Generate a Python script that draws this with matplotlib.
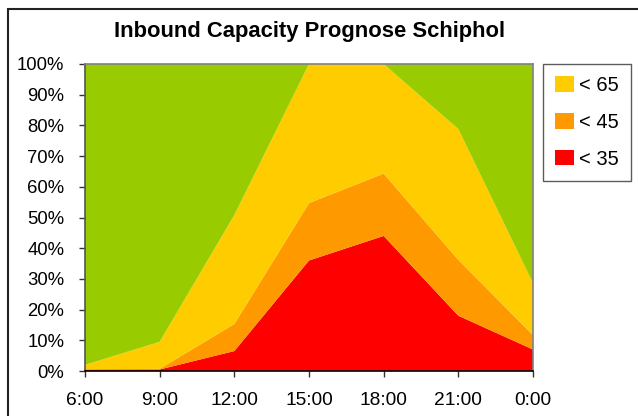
import matplotlib
matplotlib.use("Agg")
import matplotlib.pyplot as plt
from matplotlib.patches import Rectangle, Patch

times = ["6:00", "9:00", "12:00", "15:00", "18:00", "21:00", "0:00"]
red_lt35 = [0.5, 0.5, 6.5, 36.0, 44.0, 18.0, 7.0]
orange_lt45 = [0.0, 0.2, 8.8, 18.7, 20.3, 18.2, 4.7]
yellow_lt65 = [1.5, 8.8, 35.5, 45.3, 35.7, 42.6, 16.9]
green_rest = [98.0, 90.5, 49.2, 0.0, 0.0, 21.2, 71.4]
yticks = [0, 10, 20, 30, 40, 50, 60, 70, 80, 90, 100]

C_RED = "#FF0000"
C_ORANGE = "#FF9900"
C_YELLOW = "#FFCC00"
C_GREEN = "#99CC00"

plt.rcParams['font.family'] = ['Liberation Sans', 'DejaVu Sans']

fig = plt.figure(figsize=(6.38, 4.16), dpi=100)
W, H = 638, 416
ax = fig.add_axes([85 / W, 1 - 371 / H, (533 - 85) / W, (371 - 64) / H])

x = list(range(len(times)))
ax.stackplot(x, red_lt35, orange_lt45, yellow_lt65, green_rest,
             colors=[C_RED, C_ORANGE, C_YELLOW, C_GREEN], linewidth=0)

ax.set_xlim(0, len(times) - 1)
ax.set_ylim(0, 100)
ax.set_xticks(x)
ax.set_xticklabels(times, fontsize=13.8)
ax.set_yticks(yticks)
ax.set_yticklabels([f"{v}%" for v in yticks], fontsize=13.3)
ax.tick_params(axis='both', direction='out', length=4.3, width=1, color='#333333')
ax.tick_params(axis='y', pad=10.5)
ax.tick_params(axis='x', pad=10.5)

for s in ['top', 'right']:
    ax.spines[s].set_color('#808080')
    ax.spines[s].set_linewidth(1.2)
ax.spines['left'].set_color('#555555')
ax.spines['bottom'].set_color('#000000')
ax.spines['left'].set_linewidth(1.2)
ax.spines['bottom'].set_linewidth(1.2)

fig.text(310 / W, 1 - 37 / H, "Inbound Capacity Prognose Schiphol",
         ha='center', va='baseline', fontsize=15.8, fontweight='bold')

handles = [Patch(facecolor=C_YELLOW, label="< 65"),
           Patch(facecolor=C_ORANGE, label="< 45"),
           Patch(facecolor=C_RED, label="< 35")]
leg = fig.legend(handles=handles, loc='upper left',
                 bbox_to_anchor=(543 / W, 1 - 64 / H), fontsize=14.5,
                 frameon=True, fancybox=False, edgecolor='#333333',
                 handlelength=0.92, handleheight=0.8, handletextpad=0.27,
                 labelspacing=0.88, borderpad=0.6, borderaxespad=0)
leg.get_frame().set_linewidth(1.0)

fig.add_artist(Rectangle((8 / W, -0.1), 1.2, 1 - 9 / H + 0.1,
                         transform=fig.transFigure, fill=False,
                         edgecolor='#222222', linewidth=1.5))

fig.savefig("out.png", dpi=100)
